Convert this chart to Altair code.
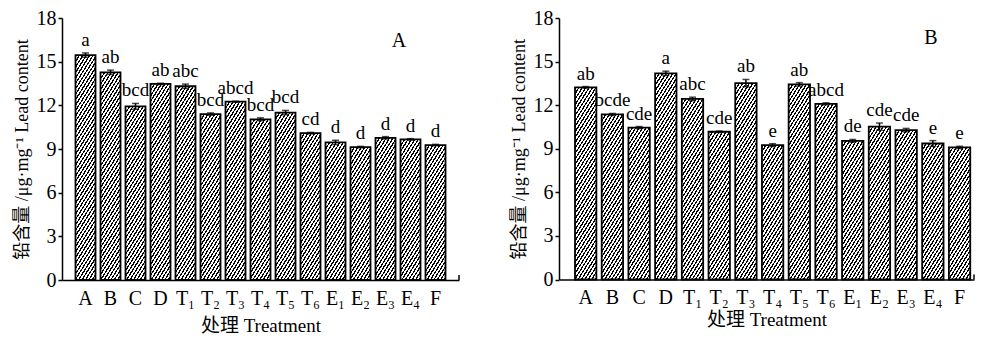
import math
import altair as alt
import pandas as pd

treatments = ["A", "B", "C", "D", "T₁", "T₂", "T₃", "T₄", "T₅", "T₆", "E₁", "E₂", "E₃", "E₄", "F"]

lead_a = [15.45, 14.27, 11.93, 13.47, 13.31, 11.40, 12.25, 11.04, 11.50, 10.09, 9.45, 9.13, 9.77, 9.66, 9.27]
err_a = [0.15, 0.15, 0.20, 0.05, 0.15, 0.08, 0.03, 0.10, 0.15, 0.05, 0.15, 0.05, 0.08, 0.05, 0.05]
sig_a = ["a", "ab", "bcd", "ab", "abc", "bcd", "abcd", "bcd", "bcd", "cd", "d", "d", "d", "d", "d"]

lead_b = [13.23, 11.36, 10.46, 14.19, 12.43, 10.17, 13.52, 9.25, 13.43, 12.09, 9.54, 10.52, 10.28, 9.36, 9.09]
err_b = [0.05, 0.07, 0.07, 0.15, 0.12, 0.05, 0.25, 0.10, 0.12, 0.07, 0.10, 0.25, 0.12, 0.20, 0.08]
sig_b = ["ab", "bcde", "cde", "a", "abc", "cde", "ab", "e", "ab", "abcd", "de", "cde", "cde", "e", "e"]

y_ticks = [0, 3, 6, 9, 12, 15, 18]
y_title = "铅含量 /μg·mg⁻¹ Lead content"
x_title = "处理 Treatment"

SERIF = "Liberation Serif, Noto Sans CJK SC, serif"


def hatch(w, h, angle=58.0, period=3.4, dark=0.42):
    """Diagonal hatch drawn as a striped linear gradient in bbox units."""
    a = math.sin(math.radians(angle))
    b = math.cos(math.radians(angle))
    span = w * a + h * b
    c = span / (w * w * a * a + h * h * b * b)
    pp = period * a
    n = span / pp
    stops = []
    i = 0
    while i < n:
        f0 = min(1.0, i / n)
        f1 = min(1.0, (i + dark) / n)
        f2 = min(1.0, (i + 1) / n)
        stops += [
            {"offset": f0, "color": "#000000"},
            {"offset": f1, "color": "#000000"},
            {"offset": f1, "color": "#ffffff"},
            {"offset": f2, "color": "#ffffff"},
        ]
        i += 1
    return {"gradient": "linear", "x1": 0, "y1": 0, "x2": c * w * a, "y2": c * h * b, "stops": stops}


def panel(vals, errs, sigs, tag, width, height, p_outer, align, tag_x, tag_y, title_pad):
    p_inner = 0.2
    y_max = y_ticks[-1]
    step = width / (len(treatments) - p_inner + 2 * p_outer)
    bw = step * (1 - p_inner)
    df = pd.DataFrame({"t": treatments, "v": vals, "e": errs, "s": sigs})
    df["lo"] = df["v"] - df["e"]
    df["hi"] = df["v"] + df["e"]
    df["hatch"] = [hatch(bw, v / y_max * height) for v in vals]

    x = alt.X(
        "t:N",
        sort=treatments,
        scale=alt.Scale(paddingInner=p_inner, paddingOuter=p_outer, align=align),
        axis=alt.Axis(
            title=x_title, labelAngle=0, ticks=False, tickSize=0, labelPadding=8,
            titlePadding=title_pad, domainColor="black", domainWidth=1.5,
        ),
    )
    xs = alt.X("t:N", sort=treatments)
    y_scale = alt.Scale(domain=[0, y_max], nice=False, zero=True)
    base = alt.Chart(df)
    bars = base.mark_bar(stroke="black", strokeWidth=1.8).encode(
        x=x,
        y=alt.Y(
            "v:Q", scale=y_scale,
            axis=alt.Axis(
                values=y_ticks, title=y_title, grid=False, tickSize=4, labelPadding=2,
                titlePadding=5, domainColor="black", domainWidth=1.5,
                tickColor="black", tickWidth=1.5,
            ),
        ),
        fill=alt.Fill("hatch:N", scale=None, legend=None),
    )
    end_tick = alt.Chart(pd.DataFrame({"z": [0]})).mark_rule(
        color="black", strokeWidth=1.5
    ).encode(x=alt.value(width), y=alt.value(height), y2=alt.value(height - 5))
    rule = base.mark_rule(color="black", strokeWidth=1.5).encode(x=xs, y="lo:Q", y2="hi:Q")
    cap_lo = base.mark_tick(color="black", size=7, thickness=1.5).encode(x=xs, y="lo:Q")
    cap_hi = base.mark_tick(color="black", size=7, thickness=1.5).encode(x=xs, y="hi:Q")
    labels = base.mark_text(
        font=SERIF, fontSize=19, baseline="alphabetic", dy=-7, color="black"
    ).encode(x=xs, y="hi:Q", text="s:N")
    tag_text = alt.Chart(pd.DataFrame({"tag": [tag]})).mark_text(
        font=SERIF, fontSize=20, color="black"
    ).encode(x=alt.value(tag_x), y=alt.value(tag_y), text="tag:N")
    return alt.layer(bars, end_tick, rule, cap_lo, cap_hi, labels, tag_text).properties(
        width=width, height=height
    )


left = panel(lead_a, err_a, sig_a, "A", 397, 262, 0.54, 0.5, 337, 23, 8)
right = panel(lead_b, err_b, sig_b, "B", 415, 261.5, 0.37, 0.81, 372, 20, 3)

chart = (
    alt.hconcat(left, right, spacing=50)
    .resolve_scale(x="independent", y="independent")
    .properties(padding={"left": 5, "top": 0, "right": 0, "bottom": 0})
    .configure_view(stroke=None)
    .configure_axis(
        labelFont=SERIF, titleFont=SERIF, labelFontSize=20, titleFontSize=19,
        labelColor="black", titleColor="black", titleFontWeight="normal",
    )
    .configure_axisY(titleFontSize=18)
)

chart.save("out.html", embed_options={"renderer": "svg", "actions": False})
